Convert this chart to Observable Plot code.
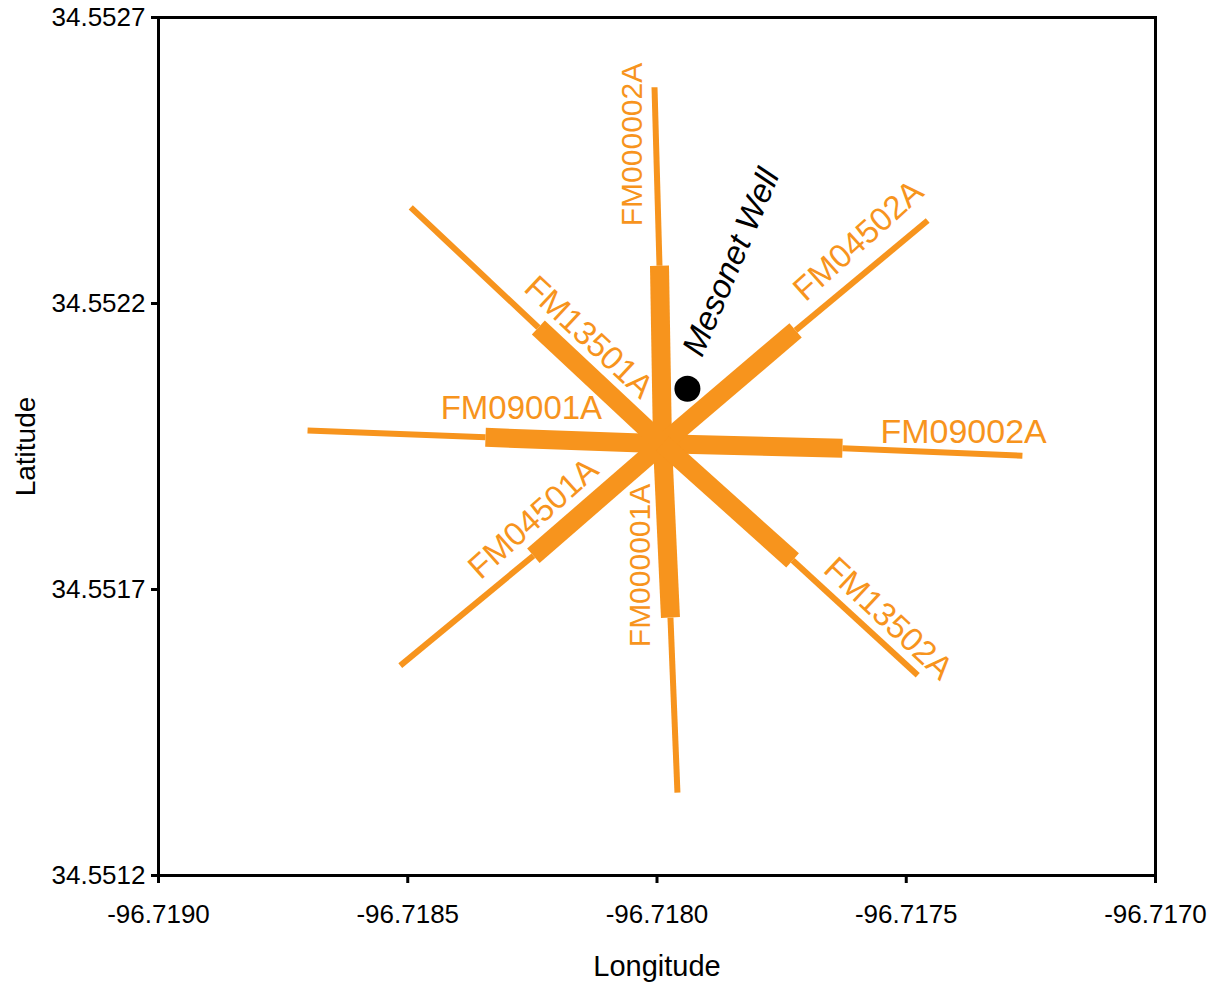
<!DOCTYPE html>
<html>
<head>
<meta charset="utf-8">
<script src="https://cdn.jsdelivr.net/npm/d3@7"></script>
<script src="https://cdn.jsdelivr.net/npm/@observablehq/plot@0.6"></script>
<style>
  html, body { margin: 0; padding: 0; background: #fff; }
</style>
</head>
<body>
<div id="chart"></div>
<script>
// ---- Data ----
const xTicks = [-96.7190, -96.7185, -96.7180, -96.7175, -96.7170];
const yTicks = [34.5512, 34.5517, 34.5522, 34.5527];

const centerLon = -96.717989;
const centerLat = 34.551955;

const armNames = ["FM000002A", "FM000001A", "FM09001A", "FM09002A", "FM04502A", "FM04501A", "FM13501A", "FM13502A"];
// outer (thin) end of each arm
const outerLon = [-96.718005, -96.717959, -96.718701, -96.717267, -96.717457, -96.718515, -96.718494, -96.717477];
const outerLat = [34.552578, 34.551345, 34.551978, 34.551934, 34.552345, 34.551567, 34.552368, 34.551550];
// where the thick section starts
const innerLon = [-96.717995, -96.717973, -96.718344, -96.717628, -96.717722, -96.718248, -96.718238, -96.717728];
const innerLat = [34.552266, 34.551651, 34.551966, 34.551947, 34.552153, 34.551759, 34.552158, 34.551751];

// label positions, angles and sizes
const labelLon = [-96.718049, -96.718033, -96.718272, -96.717385, -96.717596, -96.718248, -96.718137, -96.717536];
const labelLat = [34.552478, 34.551742, 34.552016, 34.551976, 34.552310, 34.551824, 34.552141, 34.551649];
const labelRot = [-90, -90, 0, 0, -42, -42, 43, 43];
const labelSize = [30, 30, 33, 34, 33, 33, 33, 33];

const wellName = ["Mesonet Well"];
const wellLon = [-96.717939];
const wellLat = [34.552051];
const wellLabelLon = [-96.717851];
const wellLabelLat = [34.552272];
const wellLabelRot = [-67];

const orange = "#F7941D";

const chart = Plot.plot({
  width: 1221,
  height: 984,
  marginLeft: 158,
  marginRight: 66,
  marginTop: 17,
  marginBottom: 109,
  style: {fontFamily: "'Liberation Sans', Arial, sans-serif", fontSize: "26px", background: "#fff", color: "#000"},
  x: {domain: [-96.7190, -96.7170]},
  y: {domain: [34.5512, 34.5527]},
  marks: [
    Plot.link(armNames, {
      x1: outerLon, y1: outerLat, x2: innerLon, y2: innerLat,
      stroke: orange, strokeWidth: 6, strokeLinecap: "butt"
    }),
    Plot.link(armNames, {
      x1: innerLon, y1: innerLat,
      x2: armNames.map(() => centerLon), y2: armNames.map(() => centerLat),
      stroke: orange, strokeWidth: 19, strokeLinecap: "butt"
    }),
    Plot.text(armNames, {
      x: labelLon, y: labelLat, rotate: labelRot, text: d => d,
      fill: orange, fontSize: labelSize
    }),
    Plot.dot(wellName, {x: wellLon, y: wellLat, r: 13, fill: "#000", stroke: "none"}),
    Plot.text(wellName, {
      x: wellLabelLon, y: wellLabelLat, rotate: wellLabelRot, text: d => d,
      fill: "#000", fontSize: 33, fontStyle: "italic"
    }),
    Plot.frame({stroke: "#000", strokeWidth: 3}),
    Plot.axisX({
      ticks: xTicks, tickFormat: d => d.toFixed(4), tickSize: 8, tickPadding: 21,
      strokeWidth: 3, fontSize: 26, label: null
    }),
    Plot.axisY({
      ticks: yTicks, tickFormat: d => d.toFixed(4), tickSize: 7, tickPadding: 6,
      strokeWidth: 3, fontSize: 26, label: null
    }),
    Plot.text(["Longitude"], {frameAnchor: "bottom", dy: 100, text: d => d, fontSize: 29, fill: "#000"}),
    Plot.text(["Latitude"], {frameAnchor: "left", dx: -132, rotate: -90, textAnchor: "middle", text: d => d, fontSize: 28, fill: "#000"})
  ]
});
document.getElementById("chart").appendChild(chart);
</script>
</body>
</html>
